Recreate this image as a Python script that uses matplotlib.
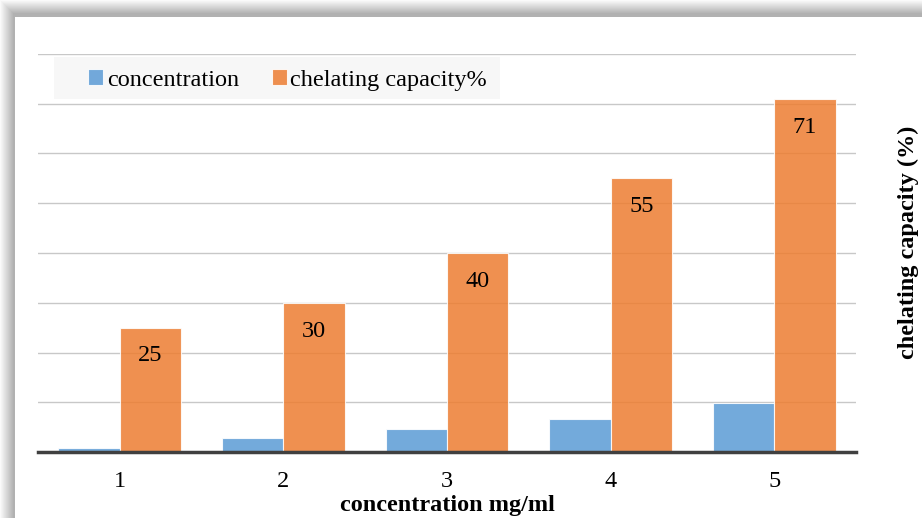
import numpy as np
import matplotlib.pyplot as plt
from matplotlib.patches import Rectangle

categories = ["1", "2", "3", "4", "5"]
concentration = [0.8, 2.8, 4.7, 6.7, 9.9]
chelating = [25, 30, 40, 55, 71]

plt.rcParams['font.family'] = ['Liberation Serif', 'DejaVu Serif']

fig = plt.figure(figsize=(9.22, 5.18), dpi=100)
fig.patch.set_facecolor('white')

# shadow round the chart frame
W, H = 922, 518
for i in range(14):
    g = 0.98 - 0.022 * i
    fig.patches.append(Rectangle((i / W, 0), 1, 1 - i / H, transform=fig.transFigure,
                                 facecolor=(g, g, g), edgecolor='none', zorder=-10 + i * 0.01))
fig.patches.append(Rectangle((15 / W, 0), 1, 1 - 17 / H, transform=fig.transFigure,
                             facecolor='white', edgecolor='none', zorder=-9))

ax = fig.add_axes([38 / W, 1 - 452 / H, 818 / W, 398 / H])
ax.set_facecolor('none')

x = np.arange(1, len(categories) + 1)
w = 0.375
b1 = ax.bar(x - w / 2, concentration, w, color='#5B9BD5', alpha=0.85,
            edgecolor='#ffffff', linewidth=0.8, label='concentration', zorder=3)
b2 = ax.bar(x + w / 2, chelating, w, color='#ED7D31', alpha=0.85,
            edgecolor='#ffffff', linewidth=0.8, label='chelating capacity%', zorder=3)

for xi, v in zip(x, chelating):
    ax.text(xi + w / 2, v - 5.7, str(v), ha='center', va='center', fontsize=17.5, zorder=5)

ax.set_xlim(0.5, 5.5)
ax.set_ylim(0, 80)
ax.set_yticks(np.arange(0, 81, 10))
ax.yaxis.grid(True, color='#c8c8c8', linewidth=1)
ax.set_axisbelow(True)
ax.tick_params(axis='y', left=False, labelleft=False)
ax.set_xticks(x)
ax.set_xticklabels(categories, fontsize=17.5)
ax.tick_params(axis='x', length=0, pad=14)
for s in ['top', 'left', 'right']:
    ax.spines[s].set_visible(False)
ax.spines['bottom'].set_color('#404040')
ax.spines['bottom'].set_linewidth(2.5)
ax.spines['bottom'].set_zorder(4)

fig.text(447 / W, 1 - 506 / H, 'concentration mg/ml', ha='center', va='center',
         fontsize=17.5, fontweight='bold')
fig.text(908 / W, 1 - 242 / H, 'chelating capacity (%)', rotation=90, ha='center', va='center',
         fontsize=17.5, fontweight='bold')

# legend background box
ax.add_patch(Rectangle(((54 - 38) / 818, (452 - 99) / 398), (500 - 54) / 818, 42 / 398,
                       transform=ax.transAxes, facecolor='#f7f7f7', edgecolor='none', zorder=5))
leg = ax.legend(loc='center left', bbox_to_anchor=((88 - 38) / 818, (452 - 80) / 398), ncol=2,
                fontsize=17.5, frameon=False, handlelength=0.62, handleheight=0.62,
                handletextpad=0.15, columnspacing=1.35, borderpad=0, borderaxespad=0)
leg.set_zorder(6)

fig.savefig('out.png', dpi=100)
